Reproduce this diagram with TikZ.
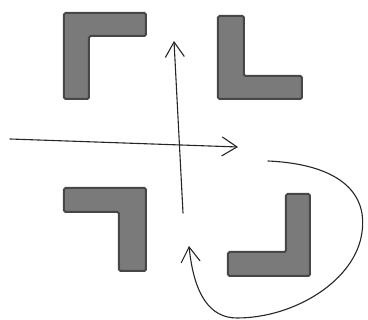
\documentclass[tikz,border=0pt]{standalone}
\usepackage{tikz}
\usetikzlibrary{arrows.meta}

\begin{document}
\begin{tikzpicture}[x=1pt,y=-1pt,
    block/.style={fill=black!52, draw=black!72, line width=2pt, rounded corners=1.5pt},
    pen/.style={black!85, line width=1.1pt, line cap=round},
    barb/.style={-{Straight Barb[length=15pt,width=19pt,line width=1.1pt]}}]
            % keep the page size
            \useasboundingbox (0,0) rectangle (368,320);

            % Draw the four corner blocks
            \draw[block] (64,13) -- (146,13) -- (146,36) -- (89,36) -- (89,99) -- (64,99) -- cycle;
            \draw[block] (218,16) -- (244,16) -- (244,76) -- (302,76) -- (302,99) -- (218,99) -- cycle;
            \draw[block] (64,188) -- (146,188) -- (146,271) -- (119,271) -- (119,212) -- (64,212) -- cycle;
            \draw[block] (286,194) -- (310,194) -- (310,276) -- (228,276) -- (228,252) -- (286,252) -- cycle;

            % end points of the arrows
            \coordinate (hstart) at (10,139);
            \coordinate (hend) at (238,147);
            \coordinate (vstart) at (183,213);
            \coordinate (vend) at (174,41);
            \coordinate (cstart) at (268,161);
            \coordinate (cend) at (189,246);

            % Draw arrows
            \draw[pen, barb] (hstart) -- (hend);
            \draw[pen, barb] (vstart) -- (vend);
            \draw[pen, barb] (cstart) .. controls (335,164) and (368,190) .. (362,232)
                .. controls (356,280) and (295,318) .. (237,318)
                .. controls (210,318) and (194,295) .. (cend);
        \end{tikzpicture}
\end{document}
